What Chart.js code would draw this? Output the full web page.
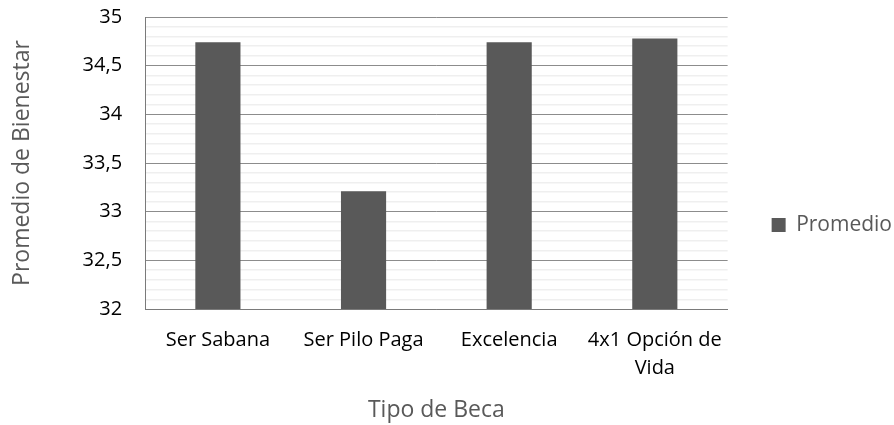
<!DOCTYPE html>
<html>
<head>
<meta charset="utf-8">
<script src="https://cdn.jsdelivr.net/npm/chart.js@4/dist/chart.umd.min.js"></script>
<style>
  html, body { margin: 0; padding: 0; background: #ffffff; overflow: hidden; }
  #wrap { width: 894px; height: 425px; overflow: hidden; }
</style>
</head>
<body>
<div id="wrap"><canvas id="becaChart" width="902" height="425"></canvas></div>
<script>
// data
var categories = ["Ser Sabana", "Ser Pilo Paga", "Excelencia", ["4x1 Opción de", "Vida"]];
var promedio = [34.74, 33.21, 34.74, 34.78];
var seriesName = "Promedio";
var yMin = 32;
var yMax = 35;
var yMajorStep = 0.5; // labelled lines
var yMinorStep = 0.1; // faint lines in between

function isMajor(v) {
  var k = v / yMajorStep;
  return Math.abs(k - Math.round(k)) < 1e-6;
}

function drawChart() {
  var ctx = document.getElementById("becaChart").getContext("2d");
  new Chart(ctx, {
    type: "bar",
    data: {
      labels: categories,
      datasets: [
        {
          label: seriesName,
          data: promedio,
          backgroundColor: "#595959",
          borderColor: "#595959",
          borderWidth: 0,
          barPercentage: 0.31,
          categoryPercentage: 1.0,
        },
      ],
    },
    options: {
      responsive: false,
      animation: false,
      layout: {
        padding: { left: 9, top: 0, right: 0, bottom: 1 },
      },
      plugins: {
        tooltip: { enabled: false },
        legend: {
          position: "right",
          title: {
            // empty title only pushes the entry a little lower
            display: true,
            text: " ",
            padding: 0,
            font: { family: "Open Sans", size: 20, lineHeight: 1.3 },
          },
          labels: {
            boxWidth: 14,
            boxHeight: 14,
            padding: 44,
            color: "#595959",
            font: { family: "Open Sans", size: 21 },
          },
        },
      },
      scales: {
        x: {
          grid: { display: false, drawTicks: false },
          border: { display: true, color: "#7a7a7a", width: 1 },
          ticks: {
            color: "#000000",
            padding: 17,
            maxRotation: 0,
            autoSkip: false,
            font: { family: "Open Sans", size: 20, lineHeight: 1.4 },
          },
          title: {
            display: true,
            text: "Tipo de Beca",
            color: "#595959",
            padding: { top: 0, bottom: 2 },
            font: { family: "Open Sans", size: 23, lineHeight: 1.0 },
          },
        },
        y: {
          min: yMin,
          max: yMax,
          border: { display: true, color: "#7a7a7a", width: 1 },
          grid: {
            drawTicks: true,
            tickLength: 18,
            tickColor: "rgba(0,0,0,0)", // room for labels, no visible tick marks
            color: function (c) {
              return isMajor(c.tick.value) ? "#8c8c8c" : "#efefef";
            },
            lineWidth: function (c) {
              return isMajor(c.tick.value) ? 1 : 1.5;
            },
          },
          ticks: {
            stepSize: yMinorStep,
            autoSkip: false,
            color: "#000000",
            padding: 5,
            font: { family: "Open Sans", size: 20 },
            callback: function (value) {
              if (!isMajor(value)) return "";
              return String(Math.round(value * 10) / 10).replace(".", ",");
            },
          },
          title: {
            display: true,
            text: "Promedio de Bienestar",
            color: "#595959",
            padding: { top: 0, bottom: 41 },
            font: { family: "Open Sans", size: 23 },
          },
        },
      },
    },
  });
}

drawChart();
</script>
</body>
</html>
